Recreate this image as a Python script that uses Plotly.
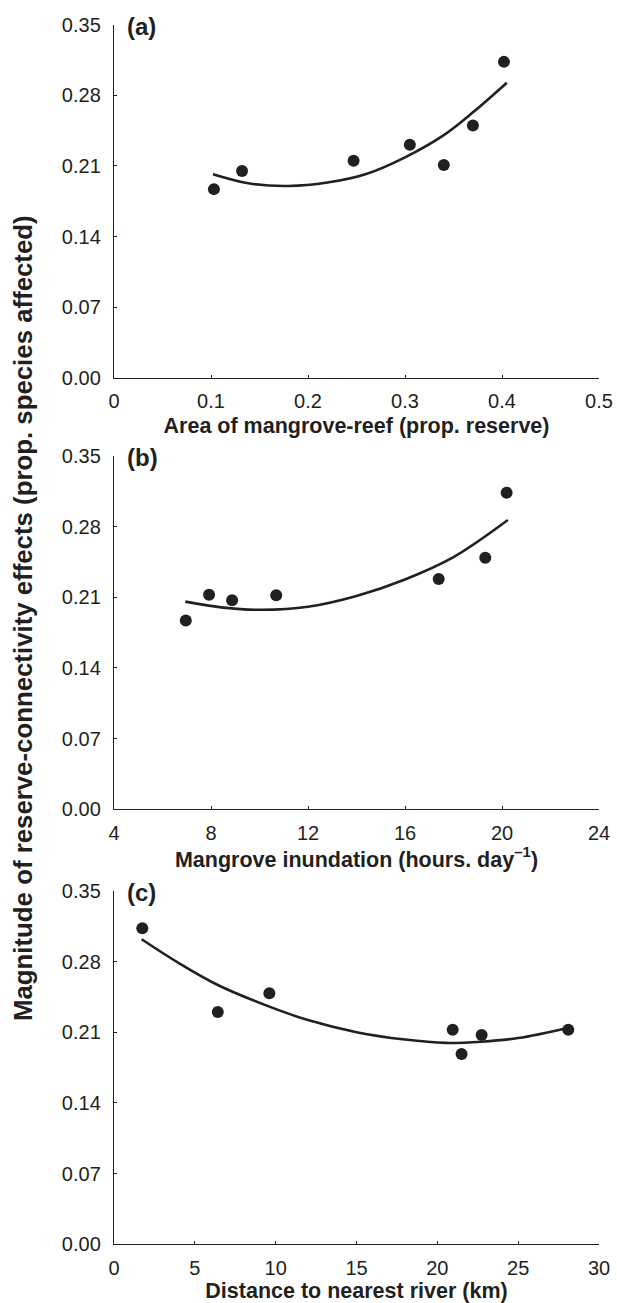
import plotly.graph_objects as go

# ---- data ----
area_x = [0.103, 0.132, 0.247, 0.305, 0.340, 0.370, 0.402]
area_y = [0.187, 0.205, 0.215, 0.231, 0.211, 0.250, 0.313]
area_fit_x = [0.102, 0.14, 0.18, 0.22, 0.26, 0.30, 0.34, 0.37, 0.405]
area_fit_y = [0.2017, 0.1925, 0.1901, 0.1935, 0.2020, 0.2185, 0.2405, 0.2630, 0.2924]

inund_x = [6.96, 7.92, 8.87, 10.69, 17.39, 19.31, 20.19]
inund_y = [0.187, 0.2125, 0.207, 0.212, 0.228, 0.249, 0.3135]
inund_fit_x = [6.94, 8.5, 10.1, 12.0, 14.0, 16.0, 18.0, 20.24]
inund_fit_y = [0.2056, 0.1997, 0.1975, 0.2006, 0.2113, 0.2276, 0.2497, 0.2864]

river_x = [1.75, 6.42, 9.61, 20.95, 21.5, 22.74, 28.1]
river_y = [0.313, 0.230, 0.2485, 0.2125, 0.1884, 0.2072, 0.2125]
river_fit_x = [1.71, 4.0, 6.42, 9.61, 12.0, 15.0, 18.0, 20.5, 22.74, 25.0, 28.1]
river_fit_y = [0.302, 0.2785, 0.2567, 0.2353, 0.2220, 0.2100, 0.2027, 0.1994, 0.2006, 0.2042, 0.2145]

y_ticks = [0.0, 0.07, 0.14, 0.21, 0.28, 0.35]
x_ticks_a = [0, 0.1, 0.2, 0.3, 0.4, 0.5]
x_ticks_b = [4, 8, 12, 16, 20, 24]
x_ticks_c = [0, 5, 10, 15, 20, 25, 30]

panel_labels = ["(a)", "(b)", "(c)"]
x_titles = ["Area of mangrove-reef (prop. reserve)",
            "Mangrove inundation (hours. day<sup>\u20131</sup>)",
            "Distance to nearest river (km)"]
y_title = "Magnitude of reserve-connectivity effects (prop. species affected)"

# ---- layout geometry ----
W, H = 617, 1303
INK = "#231f20"
FONT = "Liberation Sans, Arial, Helvetica, sans-serif"
panels_px = [(24.5, 378.0), (455.8, 809.3), (890.8, 1244.3)]  # top, bottom in px
PW = W - 114 - 18

fig = go.Figure()
series = [(area_x, area_y, area_fit_x, area_fit_y, x_ticks_a, [0, 0.5]),
          (inund_x, inund_y, inund_fit_x, inund_fit_y, x_ticks_b, [4, 24]),
          (river_x, river_y, river_fit_x, river_fit_y, x_ticks_c, [0, 30])]

for i, (sx, sy, fx, fy, xt, xr) in enumerate(series):
    n = "" if i == 0 else str(i + 1)
    fig.add_trace(go.Scatter(x=fx, y=fy, mode="lines", line=dict(color=INK, width=2.6, shape="spline"),
                             xaxis="x" + n, yaxis="y" + n, showlegend=False, hoverinfo="skip"))
    fig.add_trace(go.Scatter(x=sx, y=sy, mode="markers", marker=dict(color=INK, size=12),
                             xaxis="x" + n, yaxis="y" + n, showlegend=False))
    top, bot = panels_px[i]
    dom = [1 - bot / H, 1 - top / H]
    fig.layout["xaxis" + n] = dict(
        range=xr, tickvals=xt, ticktext=[("%g" % v) for v in xt],
        showline=True, linecolor=INK, linewidth=1.4, ticks="inside", ticklen=3, tickcolor=INK,
        showgrid=False, zeroline=False, anchor="y" + n, automargin=False,
        tickfont=dict(family=FONT, size=20, color=INK), ticklabelstandoff=5,
        title=dict(text="<b>%s</b>" % x_titles[i], font=dict(family=FONT, size=21.5, color=INK), standoff=6),
    )
    fig.layout["yaxis" + n] = dict(
        domain=dom, range=[0, 0.35], tickvals=y_ticks, ticktext=["%.2f" % v for v in y_ticks],
        showline=True, linecolor=INK, linewidth=1.4, ticks="inside", ticklen=3, tickcolor=INK,
        showgrid=False, zeroline=False, anchor="x" + n, automargin=False,
        tickfont=dict(family=FONT, size=20, color=INK), ticklabelstandoff=8,
    )
    fig.add_annotation(text="<b>%s</b>" % panel_labels[i], xref="paper", yref="paper",
                       x=(125 - 114) / PW, y=1 - (top - 14) / H,
                       xanchor="left", yanchor="top", showarrow=False,
                       font=dict(family=FONT, size=24, color=INK))

fig.add_annotation(text="<b>%s</b>" % y_title, xref="paper", yref="paper",
                   x=(23 - 114) / PW, y=1 - 618 / H, textangle=-90,
                   xanchor="center", yanchor="middle", showarrow=False,
                   font=dict(family=FONT, size=25.8, color=INK))

fig.update_layout(width=W, height=H, margin=dict(l=114, r=18, t=0, b=0, autoexpand=False),
                  paper_bgcolor="white", plot_bgcolor="white")
fig.write_html("out.html", config={"displayModeBar": False},
               post_script="document.body.style.margin='0';document.body.style.overflow='hidden';"
                           "document.documentElement.style.overflow='hidden';")
